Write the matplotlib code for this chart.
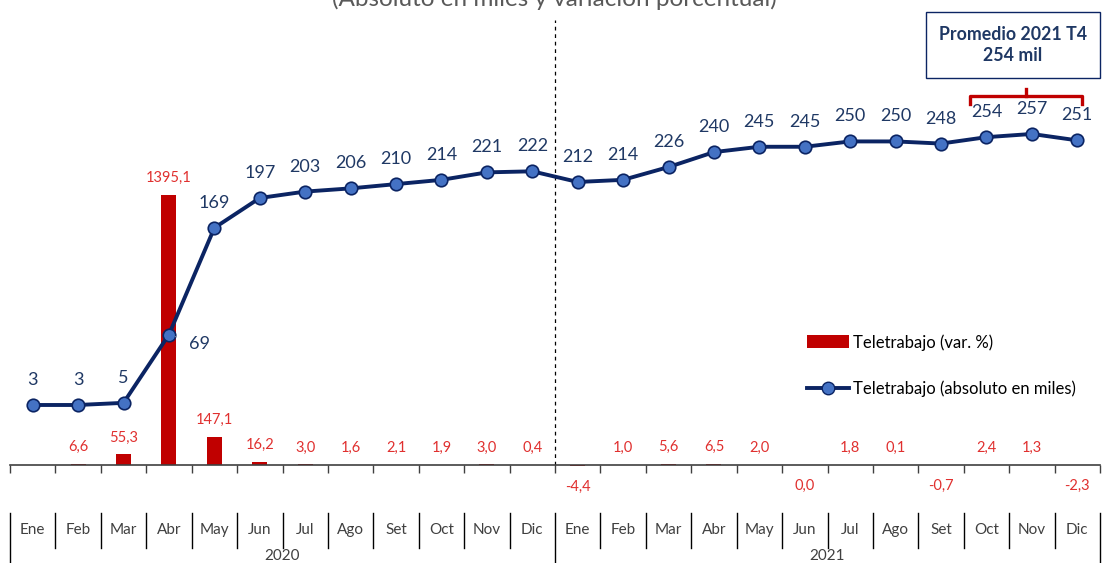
import numpy as np
import matplotlib.pyplot as plt
from matplotlib.lines import Line2D
from matplotlib.patches import Patch, Rectangle
import matplotlib.transforms as mtransforms

plt.rcParams['font.family'] = ['Lato', 'DejaVu Sans']

# Data
months = ['Ene', 'Feb', 'Mar', 'Abr', 'May', 'Jun', 'Jul', 'Ago', 'Set', 'Oct', 'Nov', 'Dic'] * 2
years = ['2020', '2021']
absoluto = [3, 3, 5, 69, 169, 197, 203, 206, 210, 214, 221, 222,
            212, 214, 226, 240, 245, 245, 250, 250, 248, 254, 257, 251]
var_pct = [np.nan, 6.6, 55.3, 1395.1, 147.1, 16.2, 3.0, 1.6, 2.1, 1.9, 3.0, 0.4,
           -4.4, 1.0, 5.6, 6.5, 2.0, 0.0, 1.8, 0.1, -0.7, 2.4, 1.3, -2.3]

W, H = 1109, 563
def fx(px):
    return px / W
def fy(py):
    return 1 - py / H

red_bar = '#c00000'
red_txt = '#e0302f'
navy = '#0b2463'
navy_txt = '#1f3864'
marker_fc = '#4472c4'

fig = plt.figure(figsize=(W / 100, H / 100), dpi=100)
ax = fig.add_axes([fx(10), fy(480), (1100 - 10) / W, 460 / H])
ax2 = ax.twinx()

x = np.arange(len(months))

# bars
ax.bar(x, var_pct, width=0.33, color=red_bar, zorder=2)
ax.set_xlim(-0.5, 23.5)
ax.set_ylim(-77.5, 2299.5)
for i, v in enumerate(var_pct):
    if np.isnan(v):
        continue
    lbl = f'{v:.1f}'.replace('.', ',')
    if v > 0:
        ax.annotate(lbl, (i, v), xytext=(0, 12), textcoords='offset points',
                    ha='center', va='center', color=red_txt, fontsize=10.5)
    else:
        ax.annotate(lbl, (i, min(v, 0)), xytext=(0, -15), textcoords='offset points',
                    ha='center', va='center', color=red_txt, fontsize=10.5)

# line
ax2.plot(x, absoluto, color=navy, lw=2.8, marker='o', ms=9,
         markerfacecolor=marker_fc, markeredgecolor=navy, markeredgewidth=1.2, zorder=3)
ax2.set_ylim(-67.3, 363.8)
for i, v in enumerate(absoluto):
    if i == 3:
        ax2.annotate(str(v), (i, v), xytext=(22, -7), textcoords='offset points',
                     ha='center', va='center', color=navy_txt, fontsize=13,
                     arrowprops=dict(arrowstyle='-', color='#a6a6a6', lw=0.8,
                                     shrinkA=8, shrinkB=5))
    else:
        ax2.annotate(str(v), (i, v), xytext=(0, 18), textcoords='offset points',
                     ha='center', va='center', color=navy_txt, fontsize=13)

# axes styling
for a in (ax, ax2):
    for s in ['top', 'right', 'left']:
        a.spines[s].set_visible(False)
    a.set_yticks([])
ax2.spines['bottom'].set_visible(False)
ax.spines['bottom'].set_position(('data', 0))
ax.spines['bottom'].set_color('#404040')
ax.spines['bottom'].set_linewidth(1.2)
ax.set_xticks(np.arange(-0.5, 24, 1))
ax.tick_params(axis='x', direction='out', length=6, width=1, color='#404040', labelbottom=False)

# dashed divider
ax.axvline(11.5, ymin=(480 - 465) / 460, ymax=1, color='black', lw=0.9, ls=(0, (3, 3)))

# category labels below
trans = mtransforms.blended_transform_factory(ax.transData, fig.transFigure)
for k in range(25):
    bottom = 563 if k in (0, 12, 24) else 548
    fig.add_artist(Line2D([k - 0.5, k - 0.5], [fy(513), fy(bottom)], transform=trans,
                          color='black', lw=1))
for i, m in enumerate(months):
    fig.text(i, fy(530), m, transform=trans, ha='center', va='center',
             fontsize=11, color='#404040')
for j, yr in enumerate(years):
    fig.text(j * 12 + 5.5, fy(556), yr, transform=trans, ha='center', va='center',
             fontsize=11, color='#404040')

# title (cut at top, as in the source)
fig.text(0.5, fy(-1), '(Absoluto en miles y variación porcentual)', ha='center', va='center',
         fontsize=17.5, color='#595959')

# annotation box
fig.add_artist(Rectangle((fx(926), fy(78)), (1100 - 926) / W, 66 / H, transform=fig.transFigure,
                         fill=False, edgecolor=navy, lw=1))
fig.text(fx(1013), fy(45), 'Promedio 2021 T4\n254 mil', ha='center', va='center',
         fontsize=12.8, fontweight='bold', color=navy_txt, linespacing=1.3)
fig.add_artist(Line2D([fx(970), fx(970), fx(1082), fx(1082)],
                      [fy(104), fy(96), fy(96), fy(104)], transform=fig.transFigure,
                      color=red_bar, lw=2.4))
fig.add_artist(Line2D([fx(1026), fx(1026)], [fy(96), fy(89)], transform=fig.transFigure,
                      color=red_bar, lw=2.4))

# legend
handles = [Patch(facecolor=red_bar, edgecolor='none'),
           Line2D([], [], color=navy, lw=2.8, marker='o', ms=9,
                  markerfacecolor=marker_fc, markeredgecolor=navy)]
ax2.legend(handles, ['Teletrabajo (var. %)', 'Teletrabajo (absoluto en miles)'],
           loc='upper left', bbox_to_anchor=(fx(792), fy(319)), bbox_transform=fig.transFigure,
           frameon=False, fontsize=12, labelspacing=1.8, handlelength=2.5,
           handletextpad=0.25, handleheight=0.8, labelcolor='black')

fig.savefig('out.png', dpi=100)
